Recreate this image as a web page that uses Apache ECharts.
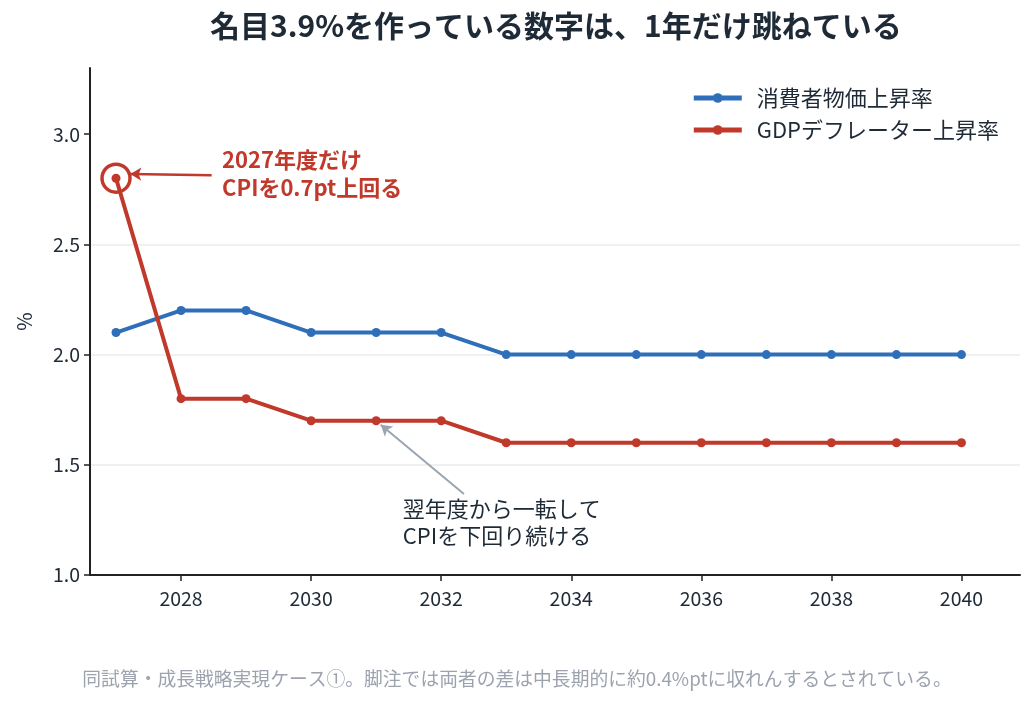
<!DOCTYPE html>
<html><head><meta charset="utf-8">
<script src="https://cdn.jsdelivr.net/npm/echarts@6/dist/echarts.min.js"></script>
<style>html,body{margin:0;padding:0;background:#fff}#c{width:1034px;height:708px}</style>
</head><body><div id="c"></div>
<script>
const years = [2027,2028,2029,2030,2031,2032,2033,2034,2035,2036,2037,2038,2039,2040];
const cpi = [2.1,2.2,2.2,2.1,2.1,2.1,2.0,2.0,2.0,2.0,2.0,2.0,2.0,2.0];
const gdp = [2.8,1.8,1.8,1.7,1.7,1.7,1.6,1.6,1.6,1.6,1.6,1.6,1.6,1.6];
const xTicks = [2028,2030,2032,2034,2036,2038,2040];
const yTicks = [1.0,1.5,2.0,2.5,3.0];
const FONT = '"Noto Sans CJK JP","Noto Sans",sans-serif';
const BLUE = '#2f6fba', RED = '#c0392b', INK = '#1f2a37';

const chart = echarts.init(document.getElementById('c'));
chart.setOption({
  animation:false,
  textStyle:{fontFamily:FONT},
  title:{text:'名目3.9%を作っている数字は、1年だけ跳ねている',left:205,top:6,
    textStyle:{fontFamily:FONT,fontSize:30,fontWeight:'bold',color:INK}},
  legend:{orient:'vertical',right:30,top:82,itemWidth:48,itemHeight:12,itemGap:10,
    lineStyle:{width:5},
    textStyle:{fontFamily:FONT,fontSize:22,color:INK,padding:[0,0,0,10]},
    data:['消費者物価上昇率','GDPデフレーター上昇率']},
  grid:{left:90,right:14,top:68,bottom:133,containLabel:false},
  xAxis:{type:'value',min:2026.6,max:2040.9,
    axisLine:{lineStyle:{color:'#222',width:2}},
    axisTick:{show:true,length:6,lineStyle:{color:'#222',width:1.5},customValues:xTicks},
    axisLabel:{fontSize:19.5,color:INK,margin:14,customValues:xTicks,formatter:v=>String(v)},
    splitLine:{show:false}},
  yAxis:{type:'value',min:1.0,max:3.3,interval:0.5,name:'%',nameLocation:'middle',nameGap:56,
    nameTextStyle:{fontSize:20,color:INK},
    axisLine:{show:true,lineStyle:{color:'#222',width:2}},
    axisTick:{show:true,length:6,lineStyle:{color:'#222',width:1.5},customValues:yTicks},
    axisLabel:{fontSize:19.5,color:INK,margin:10,customValues:yTicks,formatter:v=>v.toFixed(1)},
    splitLine:{show:true,showMinLine:false,showMaxLine:false,lineStyle:{color:'#ebebeb',width:1.5}}},
  series:[
    {name:'消費者物価上昇率',type:'line',data:years.map((y,i)=>[y,cpi[i]]),
      symbol:'circle',symbolSize:9,lineStyle:{width:4,color:BLUE},itemStyle:{color:BLUE},z:3},
    {name:'GDPデフレーター上昇率',type:'line',data:years.map((y,i)=>[y,gdp[i]]),
      symbol:'circle',symbolSize:9,lineStyle:{width:4,color:RED},itemStyle:{color:RED},z:4,
      markPoint:{symbol:'circle',symbolSize:28,silent:true,
        itemStyle:{color:'rgba(0,0,0,0)',borderColor:RED,borderWidth:3.5},
        label:{show:false},
        data:[{coord:[years[0],gdp[0]]}]},
      markLine:{silent:true,symbol:['none','arrow'],symbolSize:10,
        label:{show:false},
        data:[
          [{coord:[2028.47,2.814],symbol:'none',lineStyle:{color:RED,width:2.5,type:'solid'}},
           {coord:[2027.22,2.819],symbol:'arrow',symbolSize:[10,11],itemStyle:{color:RED}}],
          [{coord:[2032.35,1.367],symbol:'none',lineStyle:{color:'#9aa5b1',width:2,type:'solid'}},
           {coord:[2031.07,1.682],symbol:'arrow',symbolSize:[10,11],itemStyle:{color:'#9aa5b1'}}]
        ]}
    },
    {type:'scatter',silent:true,symbolSize:0,z:5,
      data:[
        {value:[2028.63,2.821],label:{show:true,position:'right',distance:0,align:'left',verticalAlign:'middle',
          formatter:'2027年度だけ\nCPIを0.7pt上回る',fontFamily:FONT,fontSize:22,fontWeight:'bold',color:RED,lineHeight:28,opacity:1}},
        {value:[2031.41,1.24],label:{show:true,position:'right',distance:0,align:'left',verticalAlign:'middle',
          formatter:'翌年度から一転して\nCPIを下回り続ける',fontFamily:FONT,fontSize:22,color:INK,lineHeight:27,opacity:1}}
      ]}
  ],
  graphic:[{type:'text',left:'center',top:669,
    style:{text:'同試算・成長戦略実現ケース①。脚注では両者の差は中長期的に約0.4%ptに収れんするとされている。',
      fontFamily:FONT,fontSize:18.8,fill:'#9ca3af'}}]
});
</script></body></html>
